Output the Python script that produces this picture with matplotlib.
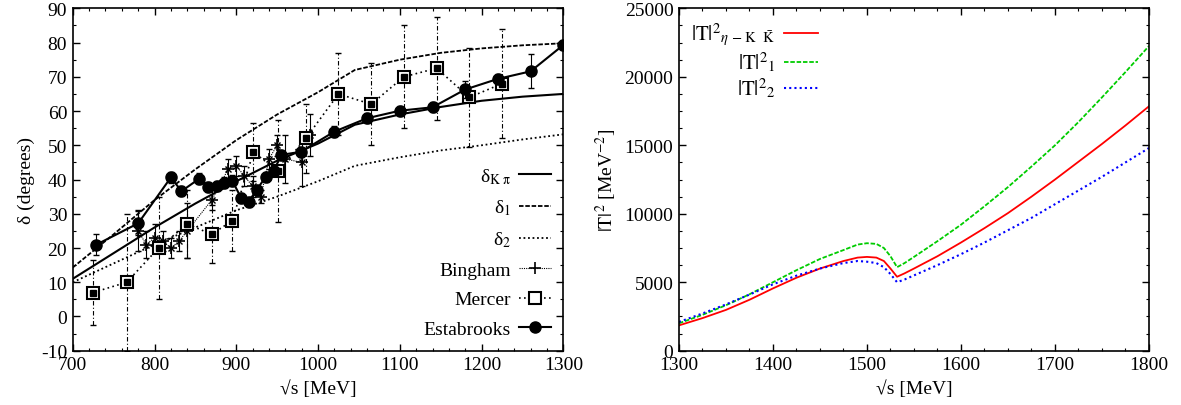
import matplotlib
matplotlib.use("Agg")
import matplotlib.pyplot as plt
from matplotlib.ticker import MultipleLocator
import numpy as np

plt.rcParams['font.family'] = ['Liberation Serif', 'DejaVu Serif']
plt.rcParams['mathtext.fontset'] = 'stix'
plt.rcParams['axes.unicode_minus'] = False
plt.rcParams['font.size'] = 14

# ---- left panel: phase shifts ----
curve_x = [700, 750, 800, 850, 900, 950, 1000, 1045, 1100, 1150, 1200, 1250, 1300]
delta_kpi = [11, 18.5, 26, 33, 39.5, 45.5, 50.5, 56, 59, 61.2, 63, 64.2, 65]
delta_1 = [14.3, 24, 34, 43, 51.5, 59, 65.5, 72, 75, 77, 78.3, 79.2, 79.8]
delta_2 = [10, 15.5, 21, 26, 31, 35, 39.5, 44, 46.5, 48.5, 50, 51.7, 53.2]

bing_x = [780, 790, 800, 810, 820, 830, 840, 870, 890, 900, 910, 920, 930, 940, 950, 960, 980, 990]
bing_y = [25, 21, 23, 22, 20, 22, 25, 34, 43, 44, 41, 38, 35, 46, 50, 46, 45, 53]
bing_err = [6, 4, 4, 3, 3, 3, 8, 3, 3, 3, 3, 3, 2, 3, 3, 7, 7, 6]

merc_x = [725, 766, 805, 840, 870, 895, 921, 951, 985, 1025, 1065, 1105, 1145, 1185, 1225]
merc_y = [7, 10, 20, 27, 24, 28, 48, 42.5, 52, 65, 62, 70, 72.5, 64, 68]
merc_err = [9.5, 20, 15, 10, 8.5, 9, 8.5, 15, 10, 12, 12, 15, 15, 14.5, 16]

est_x = [729, 780, 820, 833, 855, 865, 876, 885, 895, 906, 915, 925, 936, 946, 955, 979,
         1020, 1060, 1100, 1140, 1180, 1220, 1260, 1300]
est_y = [21, 27.2, 40.6, 36.6, 40.3, 37.9, 38.2, 39.1, 39.7, 34.6, 33.5, 37, 40.8, 42.6, 47.2, 48.1,
         54, 57.9, 60.1, 61.1, 66.3, 69.4, 71.6, 79.3]
est_err = [3, 3.5, 1.5, 1.5, 1.5, 1.5, 1.5, 1.5, 1.5, 1.5, 1.5, 1.5, 1.5, 1.5, 1.5, 1.5,
           1.5, 1.5, 1.5, 1.5, 2.5, 1.5, 5, 1.5]

# ---- right panel: |T|^2 ----
t_x = [1300, 1325, 1350, 1375, 1400, 1425, 1450, 1475, 1490, 1500, 1510, 1518, 1525, 1532,
       1540, 1550, 1575, 1600, 1625, 1650, 1675, 1700, 1725, 1750, 1775, 1800]
t_eta = [1850, 2380, 2980, 3720, 4550, 5330, 6000, 6550, 6800, 6850, 6800, 6550, 6000, 5400,
         5650, 6000, 6900, 7900, 8950, 10050, 11250, 12500, 13800, 15100, 16450, 17850]
t_1 = [2000, 2620, 3320, 4120, 5000, 5880, 6700, 7350, 7750, 7850, 7800, 7500, 6900, 6100,
       6400, 6850, 8000, 9200, 10550, 11950, 13450, 15000, 16700, 18500, 20350, 22250]
t_2 = [2100, 2720, 3380, 4100, 4850, 5480, 6000, 6400, 6550, 6500, 6400, 6100, 5600, 5000,
       5200, 5500, 6250, 7050, 7900, 8800, 9700, 10700, 11700, 12700, 13750, 14800]

fig = plt.figure(figsize=(11.81, 4.06), dpi=100)
ax1 = fig.add_axes([0.0616, 0.1337, 0.4154, 0.8433])
ax2 = fig.add_axes([0.5749, 0.1337, 0.398, 0.8433])

ax1.plot(curve_x, delta_kpi, 'k-', lw=1.5, label=r'δ$_{\mathrm{K\ π}}$')
ax1.plot(curve_x, delta_1, 'k', ls=(0, (2.5, 1)), lw=1.3, label=r'δ$_{\mathrm{1}}$')
ax1.plot(curve_x, delta_2, 'k', ls=(0, (1, 1.5)), lw=1.3, label=r'δ$_{\mathrm{2}}$')

# Bingham
ax1.errorbar(bing_x, bing_y, yerr=bing_err, fmt='none', ecolor='k', capsize=2, elinewidth=0.8)
ax1.plot(bing_x, bing_y, color='k', marker='+', ms=8, mew=1.2, ls=(0, (1, 1)), lw=0.8,
         label='Bingham')
ax1.plot(bing_x, bing_y, 'kx', ms=5, mew=1.0)

# Mercer
eb2 = ax1.errorbar(merc_x, merc_y, yerr=merc_err, fmt='none', ecolor='k', capsize=2, elinewidth=0.8)
eb2[2][0].set_linestyle((0, (4, 2, 1, 2)))
ax1.plot(merc_x, merc_y, color='k', marker='s', mfc='white', mec='black', ms=8, mew=1.5,
         ls=(0, (1, 2)), lw=1.2, label='Mercer')
ax1.plot(merc_x, merc_y, 'ks', ms=4.5, zorder=5)

# Estabrooks
ax1.errorbar(est_x, est_y, yerr=est_err, fmt='none', ecolor='k', capsize=2, elinewidth=0.8)
ax1.plot(est_x, est_y, 'k-', marker='o', ms=8, lw=1.5, label='Estabrooks')

ax1.set_xlim(700, 1300)
ax1.set_ylim(-10, 90)
ax1.xaxis.set_major_locator(MultipleLocator(100))
ax1.xaxis.set_minor_locator(MultipleLocator(20))
ax1.yaxis.set_major_locator(MultipleLocator(10))
ax1.yaxis.set_minor_locator(MultipleLocator(5))
ax1.set_xlabel(r'√s [MeV]')
ax1.set_ylabel(r'δ (degrees)')
ax1.legend(loc='lower right', frameon=False, markerfirst=False, handlelength=1.65,
           handletextpad=0.4, labelspacing=0.62, borderaxespad=0.25, fontsize=14)

ax2.plot(t_x, t_eta, color='#ff0000', lw=1.3,
         label=r'$|\mathrm{T}|^{2}{}_{\eta\ \mathrm{-}\ \mathrm{K}\ \ \bar{\mathrm{K}}}$')
ax2.plot(t_x, t_1, color='#00cc00', ls=(0, (2.5, 1)), lw=1.3, label=r'$|\mathrm{T}|^{2}{}_{1}$')
ax2.plot(t_x, t_2, color='#0000ff', ls=(0, (1, 1.5)), lw=1.5, label=r'$|\mathrm{T}|^{2}{}_{2}$')
ax2.set_xlim(1300, 1800)
ax2.set_ylim(0, 25000)
ax2.xaxis.set_major_locator(MultipleLocator(100))
ax2.xaxis.set_minor_locator(MultipleLocator(25))
ax2.yaxis.set_major_locator(MultipleLocator(5000))
ax2.yaxis.set_minor_locator(MultipleLocator(1250))
ax2.set_xlabel(r'√s [MeV]')
ax2.set_ylabel(r'$|\mathrm{T}|^2$ [MeV$^{-2}$]')
ax2.legend(loc='upper left', frameon=False, markerfirst=False, handlelength=1.65,
           handletextpad=0.4, labelspacing=0.1, borderaxespad=0.2, fontsize=15)

for ax in (ax1, ax2):
    ax.tick_params(which='both', direction='in', top=True, right=True, labelsize=14, pad=4)
    ax.tick_params(which='major', length=5, width=1)
    ax.tick_params(which='minor', length=2.5, width=0.8)
    for s in ax.spines.values():
        s.set_linewidth(1.2)

fig.savefig('out.png', dpi=100)
